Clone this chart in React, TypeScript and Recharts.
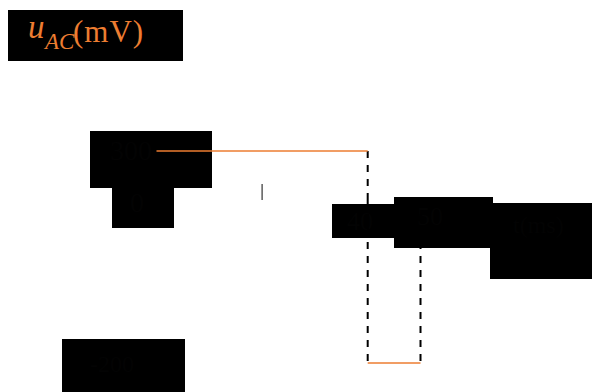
import { ComposedChart, Line, Scatter, XAxis, YAxis } from 'recharts';

// waveform u_AC(t): 300 mV for 0–40 ms, then -200 mV for 40–50 ms
const highTimes = [0, 40];
const highValues = [300, 300];
const lowTimes = [40, 50];
const lowValues = [-200, -200];
const dropTimes = [40, 50];
const dropTop = [300, 0];
const tickTimes = [20];

const yLabels = ['300', '0', '-200'];
const xLabels = ['40', '50', 't(ms)'];

const ORANGE = '#ED7D31';

const high = highTimes.map((t, i) => ({ t, u: highValues[i] }));
const low = lowTimes.map((t, i) => ({ t, u: lowValues[i] }));
const dropUpper = [
  { t: dropTimes[0], u: dropTop[0] },
  { t: dropTimes[0], u: 0 },
];
const dropLower40 = [
  { t: dropTimes[0], u: 0 },
  { t: dropTimes[0], u: lowValues[0] },
];
const dropLower50 = [
  { t: dropTimes[1], u: dropTop[1] },
  { t: dropTimes[1], u: lowValues[1] },
];
const ticks = tickTimes.map((t) => ({ t, u: 0 }));

// label boxes (black background, black text)
const boxes = [
  { text: yLabels[0], x: 90, y: 131, w: 122, h: 57, tx: 110, ty: 160, size: 28 },
  { text: yLabels[1], x: 112, y: 188, w: 62, h: 40, tx: 130, ty: 212, size: 28 },
  { text: yLabels[2], x: 62, y: 339, w: 123, h: 53, tx: 90, ty: 372, size: 24 },
  { text: xLabels[0], x: 332, y: 204, w: 63, h: 34, tx: 347, ty: 230, size: 26 },
  { text: xLabels[1], x: 394, y: 197, w: 99, h: 51, tx: 417, ty: 225, size: 26 },
  { text: xLabels[2], x: 490, y: 203, w: 102, h: 76, tx: 513, ty: 233, size: 24 },
];

function TickMark(props: any) {
  const { cx, cy } = props;
  return <line x1={cx} x2={cx} y1={cy - 16} y2={cy} stroke="#333" strokeWidth={1.2} />;
}

const dashed = { stroke: '#000', strokeWidth: 2, strokeDasharray: '7 7', dot: false, activeDot: false, isAnimationActive: false };

export default function App() {
  return (
    <div style={{ position: 'absolute', left: 0, top: 0, width: 592, height: 392, background: '#fff' }}>
      <svg width={592} height={392} style={{ position: 'absolute', left: 0, top: 0 }}>
        <rect x={8} y={10} width={175} height={51} fill="#000" />
        <text fill={ORANGE} fontFamily="'Liberation Serif', serif">
          <tspan x={28} y={38} fontSize={33} fontStyle="italic">u</tspan>
          <tspan x={45} y={49} fontSize={23} fontStyle="italic">AC</tspan>
          <tspan x={73} y={42} fontSize={31} letterSpacing={1}>(mV)</tspan>
        </text>
        {boxes.map((b) => (
          <g key={b.text}>
            <rect x={b.x} y={b.y} width={b.w} height={b.h} fill="#000" />
            <text x={b.tx} y={b.ty} fontSize={b.size} fill="#030303" fontFamily="'Liberation Serif', serif">
              {b.text}
            </text>
          </g>
        ))}
      </svg>
      <div style={{ position: 'absolute', left: 0, top: 0 }}>
        <ComposedChart width={592} height={392} margin={{ top: 0, right: 0, bottom: 0, left: 0 }}>
          <XAxis type="number" dataKey="t" domain={[-29.64, 82.48]} allowDataOverflow hide />
          <YAxis yAxisId="pos" type="number" domain={[-1175.5, 1224.5]} allowDataOverflow hide />
          <YAxis yAxisId="neg" type="number" domain={[-235.6, 245.4]} allowDataOverflow hide />
          <Line yAxisId="pos" data={dropUpper} dataKey="u" {...dashed} />
          <Line yAxisId="neg" data={dropLower40} dataKey="u" {...dashed} />
          <Line yAxisId="neg" data={dropLower50} dataKey="u" {...dashed} />
          <Line yAxisId="pos" data={high} dataKey="u" stroke={ORANGE} strokeWidth={1.6} dot={false} activeDot={false} isAnimationActive={false} />
          <Line yAxisId="neg" data={low} dataKey="u" stroke={ORANGE} strokeWidth={1.6} dot={false} activeDot={false} isAnimationActive={false} />
          <Scatter yAxisId="pos" data={ticks} dataKey="u" shape={<TickMark />} isAnimationActive={false} />
        </ComposedChart>
      </div>
    </div>
  );
}
